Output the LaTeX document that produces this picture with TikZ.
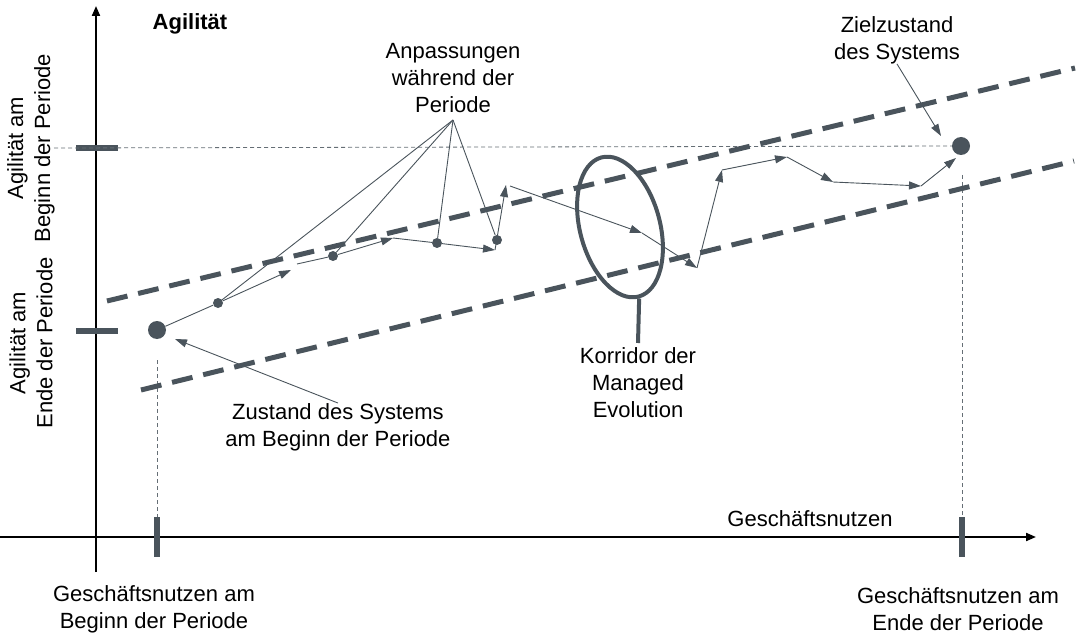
\documentclass[tikz,border=0pt]{standalone}
\usepackage{fontspec}
\setmainfont{Liberation Sans}
\usetikzlibrary{arrows.meta,shapes.geometric}
\definecolor{slate}{RGB}{74,84,92}
\begin{document}
\begin{tikzpicture}[x=1pt,y=-1pt,
  txt/.style={font=\fontsize{22}{27}\selectfont, align=center, inner sep=0pt},
  dot/.style={circle, fill=slate, inner sep=0pt, minimum size=10pt},
  bigdot/.style={circle, fill=slate, inner sep=0pt, minimum size=18pt},
  traj/.style={slate, line width=0.9pt},
  tarrow/.style={traj, -{Triangle[length=12pt,width=8pt]}},
  corridor/.style={slate, line width=5pt, dash pattern=on 21pt off 11pt},
  guide/.style={slate!85, line width=0.8pt, dash pattern=on 4pt off 3pt},
  xtick/.style={fill=slate, inner sep=0pt, minimum width=6pt, minimum height=40pt},
  ytick/.style={fill=slate, inner sep=0pt, minimum width=42pt, minimum height=6pt},
  axis/.style={black, line width=2pt, -{Triangle[length=10pt,width=8pt]}}]

\useasboundingbox (0,0) rectangle (1082,639);

% axes
\coordinate (yb) at (96,572);
\coordinate (yt) at (96,6);
\coordinate (xl) at (0,537);
\coordinate (xr) at (1036,537);
\draw[axis] (yb) -- (yt);
\draw[axis] (xl) -- (xr);

% ticks
\node[ytick] (yt1) at (97,148) {};
\node[ytick] (yt2) at (97,331) {};
\node[xtick] (xt1) at (157,537) {};
\node[xtick] (xt2) at (962,537) {};

% dots
\node[bigdot] (d0) at (157,330) {};
\node[dot] (d1) at (218,303) {};
\node[dot] (d2) at (333,256) {};
\node[dot] (d3) at (437,243) {};
\node[dot] (d4) at (497,240) {};
\node[bigdot] (dE) at (961,146) {};

% guides
\coordinate (gh) at (54,148);
\coordinate (gv1) at (157,360);
\coordinate (gv2) at (962,175);
\draw[guide] (gh) -- (dE);
\draw[guide] (gv1) -- (xt1.north);
\draw[guide] (gv2) -- (xt2.north);

% corridor
\coordinate (cu1) at (107,301);
\coordinate (cu2) at (1075,68);
\coordinate (cl1) at (141,390);
\coordinate (cl2) at (1074,161);
\draw[corridor] (cu1) -- (cu2);
\draw[corridor] (cl1) -- (cl2);

% trajectory
\coordinate (p1) at (291,270);
\coordinate (p1b) at (297,264);
\coordinate (p2) at (393,238);
\coordinate (p3) at (495,250);
\coordinate (p4) at (506,185);
\coordinate (p4b) at (510,186);
\coordinate (p5) at (642,233);
\coordinate (p6) at (697,268);
\coordinate (p7) at (722,170);
\coordinate (p8) at (787,157);
\coordinate (p9) at (833,182);
\coordinate (p10) at (921,186);
\coordinate (p11) at (956,158);
\draw[traj] (d0) -- (d1);
\draw[tarrow] (d1) -- (p1);
\draw[traj] (p1b) -- (d2);
\draw[tarrow] (d2) -- (p2);
\draw[traj] (p2) -- (d3);
\draw[tarrow] (d3) -- (p3);
\draw[tarrow] (p3) -- (p4);
\draw[tarrow] (p4b) -- (p5);
\draw[tarrow] (p5) -- (p6);
\draw[tarrow] (p6) -- (p7);
\draw[tarrow] (p7) -- (p8);
\draw[tarrow] (p8) -- (p9);
\draw[tarrow] (p9) -- (p10);
\draw[tarrow] (p10) -- (p11);

% corridor ellipse
\node[draw=slate, line width=4pt, ellipse, minimum width=144pt, minimum height=80pt, inner sep=0pt, rotate=-75] (ell) at (620,227) {};
\coordinate (stemend) at (638,343);
\draw[slate, line width=4pt] (ell.east) -- (stemend);

% texts
\node[txt, font=\fontsize{22}{27}\selectfont\bfseries] (agil) at (190,24) {Agilität};
\node[txt] (anp) at (453,78) {Anpassungen\\während der\\Periode};
\node[txt] (ziel) at (897,40) {Zielzustand\\des Systems};
\node[txt] (zus) at (338,427) {Zustand des Systems\\am Beginn der Periode};
\node[txt] (korr) at (638,383) {Korridor der\\Managed\\Evolution};
\node[txt] (gn) at (810,519) {Geschäftsnutzen};
\node[txt] (gnb) at (154,609) {Geschäftsnutzen am\\Beginn der Periode};
\node[txt] (gne) at (958,609) {Geschäftsnutzen am\\Ende der Periode};
\node[txt, rotate=90] (agb) at (31,148) {Agilität am\\Beginn der Periode};
\node[txt, rotate=90] (age) at (31,343) {Agilität am\\Ende der Periode};

% annotation connectors
\coordinate (hub) at (453,120);
\draw[traj] (hub) -- (d1);
\draw[traj] (hub) -- (d2);
\draw[traj] (hub) -- (d3);
\draw[traj] (hub) -- (d4);
\coordinate (zieltip) at (941,136);
\draw[tarrow] (ziel.south) -- (zieltip);
\coordinate (zustip) at (175,339);
\draw[tarrow] (zus.north) -- (zustip);
\end{tikzpicture}
\end{document}
